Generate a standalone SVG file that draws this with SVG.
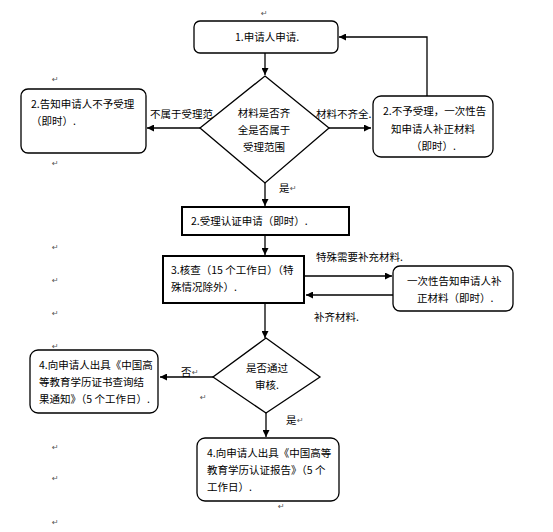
<svg xmlns="http://www.w3.org/2000/svg" width="553" height="532" viewBox="0 0 553 532">
<style>
text{font-family:"Noto Sans CJK SC","Liberation Sans",sans-serif;font-size:10.5px;fill:#000}
.b{fill:#fff;stroke:#000;stroke-width:1.3}
.r{fill:#fff;stroke:#000;stroke-width:2}
.c{fill:none;stroke:#000;stroke-width:1.3}
.m{font-family:"DejaVu Sans",sans-serif;font-size:8px;fill:#555}
.mid{text-anchor:middle}
</style>
<defs>
<marker id="a" viewBox="0 0 10 10" refX="10" refY="5" markerWidth="7" markerHeight="7" markerUnits="userSpaceOnUse" orient="auto">
<path d="M0,0L10,5L0,10z" fill="#000"/>
</marker>
</defs>
<rect width="553" height="532" fill="#fff"/>
<g id="connectors">
<path class="c" d="M265,53V75" marker-end="url(#a)"/>
<path class="c" d="M200,128H147" marker-end="url(#a)"/>
<path class="c" d="M329,128H371" marker-end="url(#a)"/>
<path class="c" d="M427,96V37H339" marker-end="url(#a)"/>
<path class="c" d="M265,183V206" marker-end="url(#a)"/>
<path class="c" d="M265,235V255" marker-end="url(#a)"/>
<path class="c" d="M304,276H392" marker-end="url(#a)"/>
<path class="c" d="M393,295H306" marker-end="url(#a)"/>
<path class="c" d="M265,303V338" marker-end="url(#a)"/>
<path class="c" d="M213,377H160" marker-end="url(#a)"/>
<path class="c" d="M266,413V437" marker-end="url(#a)"/>
<text x="150" y="118">不属于受理范</text>
<text x="316" y="118">材料不齐全.</text>
<text x="279" y="192">是</text>
<text x="316" y="261">特殊需要补充材料.</text>
<text x="314" y="321">补齐材料.</text>
<text x="181" y="376">否</text>
<text x="286" y="424">是</text>
</g>
<g id="n1"><rect class="b" x="194" y="21" width="144" height="32" rx="6"/><text class="mid" x="267" y="41">1.申请人申请.</text></g>
<g id="d1"><path class="b" d="M265,76L329,128L265,183L200,128z"/>
<text class="mid" x="264" y="117">材料是否齐</text><text class="mid" x="264" y="134">全是否属于</text><text class="mid" x="264" y="151">受理范围</text></g>
<g id="n2a"><rect class="b" x="21" y="89" width="125" height="64" rx="7"/><text x="31" y="108">2.告知申请人不予受理</text><text x="31" y="125">（即时）.</text></g>
<g id="n2b"><rect class="b" x="373" y="96" width="120" height="61" rx="8"/><text x="383" y="115">2.不予受理，一次性告</text><text x="391" y="133">知申请人补正材料</text><text x="411" y="150">（即时）.</text></g>
<g id="n2c"><rect class="r" x="182" y="207" width="167" height="28"/><text x="191" y="225">2.受理认证申请（即时）.</text></g>
<g id="n3"><rect class="r" x="163" y="256" width="141" height="47"/><text x="171" y="274">3.核查（15 个工作日）（特</text><text x="171" y="291">殊情况除外）.</text></g>
<g id="n3b"><rect class="b" x="393" y="266" width="120" height="45" rx="7"/><text x="407" y="285">一次性告知申请人补</text><text x="417" y="302">正材料（即时）.</text></g>
<g id="d2"><path class="b" d="M266,338L320,377L266,413L213,377z"/><text class="mid" x="267" y="372">是否通过</text><text class="mid" x="267" y="389">审核.</text></g>
<g id="n4a"><rect class="b" x="30" y="350" width="128" height="63" rx="8"/><text x="39" y="369">4.向申请人出具《中国高</text><text x="39" y="386">等教育学历证书查询结</text><text x="39" y="403">果通知》（5 个工作日）.</text></g>
<g id="n4b"><rect class="b" x="197" y="438" width="142" height="63" rx="8"/><text x="207" y="457">4.向申请人出具《中国高等</text><text x="207" y="474">教育学历认证报告》（5 个</text><text x="207" y="491">工作日）.</text></g>
<g id="marks">
<text class="m" x="261" y="16">↵</text>
<text class="m" x="52" y="82">↵</text>
<text class="m" x="52" y="166">↵</text>
<text class="m" x="52" y="250">↵</text>
<text class="m" x="52" y="283">↵</text>
<text class="m" x="52" y="316">↵</text>
<text class="m" x="52" y="349">↵</text>
<text class="m" x="52" y="450">↵</text>
<text class="m" x="52" y="481">↵</text>
<text class="m" x="52" y="525">↵</text>
<text class="m" x="200" y="400">↵</text>
<text class="m" x="278" y="509">↵</text>
<text class="m" x="290" y="191">↵</text>
<text class="m" x="192" y="375">↵</text>
<text class="m" x="297" y="423">↵</text>
</g>
</svg>
